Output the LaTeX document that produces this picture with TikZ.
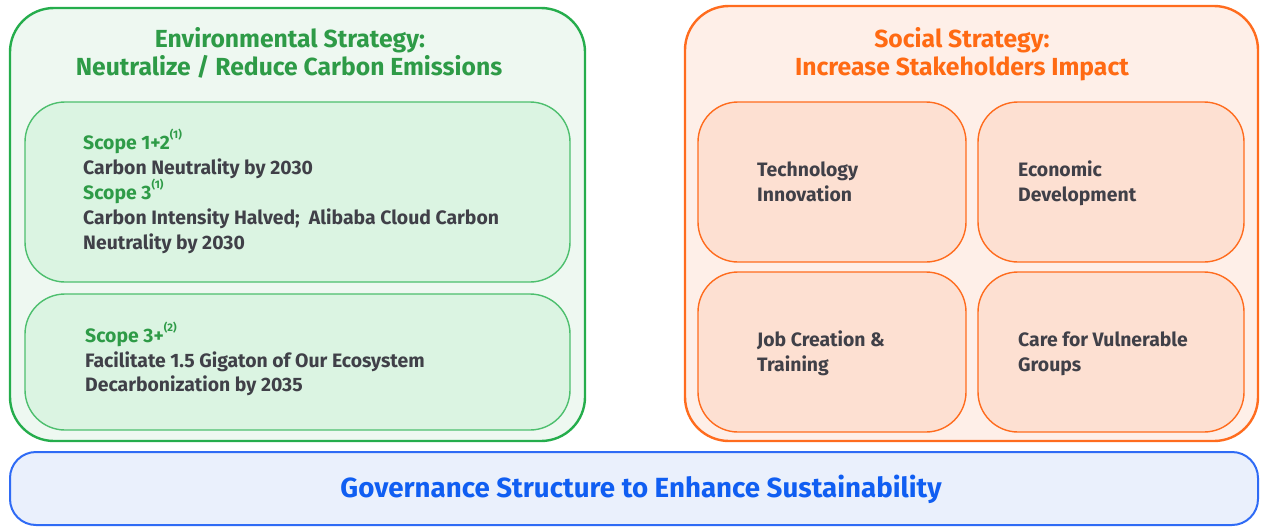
\documentclass[tikz,border=0pt]{standalone}
\usepackage{fontspec}
\setmainfont{Fira Sans}
\begin{document}
\begin{tikzpicture}[x=1pt,y=-1pt,
  panel/.style={inner sep=0pt,outer sep=0pt},
  envouter/.style={panel,draw=envline,line width=2.4pt,fill=envfillA,rounded corners=44pt},
  envinner/.style={panel,draw=envlineB,line width=1.4pt,fill=envfillB,rounded corners=40pt},
  socouter/.style={panel,draw=socline,line width=2.4pt,fill=socfillA,rounded corners=44pt},
  socinner/.style={panel,draw=socline,line width=1.4pt,fill=socfillB,rounded corners=40pt},
  govbox/.style={panel,draw=govline,line width=2pt,fill=govfill,rounded corners=26pt},
  headline/.style={font=\fontsize{24.7}{28}\selectfont\bfseries,anchor=base,inner sep=0pt},
  bodyline/.style={font=\fontsize{19.4}{25}\selectfont\bfseries,anchor=base west,inner sep=0pt,text=bodytext},
  scopeline/.style={bodyline,text=envtext},
]
\definecolor{envline}{HTML}{25AD4C}
\definecolor{envlineB}{HTML}{4DBF6E}
\definecolor{envfillA}{HTML}{EEF8F1}
\definecolor{envfillB}{HTML}{DBF4E2}
\definecolor{envtext}{HTML}{2E9B47}
\definecolor{socline}{HTML}{FF6C1E}
\definecolor{socfillA}{HTML}{FEEFE8}
\definecolor{socfillB}{HTML}{FDE0D2}
\definecolor{soctext}{HTML}{FF6A13}
\definecolor{govline}{HTML}{2F6BF5}
\definecolor{govfill}{HTML}{EAF0FC}
\definecolor{govtext}{HTML}{105EF2}
\definecolor{bodytext}{HTML}{404048}
\newcommand\notemark[1]{\raisebox{0.55em}{\fontsize{11}{11}\selectfont(#1)}}

\useasboundingbox (0,0) rectangle (1266,527);

% environmental column
\node[envouter,minimum width=575,minimum height=433] (envbox) at (297.5,224.5) {};
\node[envinner,minimum width=545,minimum height=180] (envA) at (297.5,192) {};
\node[envinner,minimum width=545,minimum height=136] (envB) at (297.5,362) {};
\node[headline,text=envtext] (envt1) at (290,48) {Environmental Strategy:};
\node[headline,text=envtext] (envt2) at (289,75) {Neutralize / Reduce Carbon Emissions};
\node[scopeline] (s12) at (83,149) {Scope 1+2\notemark{1}};
\node[bodyline]  (s12a) at (83,174) {Carbon Neutrality by 2030};
\node[scopeline] (s3) at (83,199) {Scope 3\notemark{1}};
\node[bodyline]  (s3a) at (83,224) {Carbon Intensity Halved;\ \ Alibaba Cloud Carbon};
\node[bodyline]  (s3b) at (83,249) {Neutrality by 2030};
\node[scopeline] (s3p) at (85,342) {Scope 3+\notemark{2}};
\node[bodyline]  (s3pa) at (85,367) {Facilitate 1.5 Gigaton of Our Ecosystem};
\node[bodyline]  (s3pb) at (85,391) {Decarbonization by 2035};

% social column
\node[socouter,minimum width=573,minimum height=435] (socbox) at (971.5,223.5) {};
\node[socinner,minimum width=268,minimum height=160] (socA) at (832,182) {};
\node[socinner,minimum width=266,minimum height=160] (socB) at (1111,182) {};
\node[socinner,minimum width=268,minimum height=160] (socC) at (832,352) {};
\node[socinner,minimum width=266,minimum height=160] (socD) at (1111,352) {};
\node[headline,text=soctext] (soct1) at (962,48) {Social Strategy:};
\node[headline,text=soctext] (soct2) at (962,75) {Increase Stakeholders Impact};
\node[bodyline] (ta) at (757,176) {Technology};
\node[bodyline] (tb) at (757,201) {Innovation};
\node[bodyline] (ea) at (1018,176) {Economic};
\node[bodyline] (eb) at (1018,201) {Development};
\node[bodyline] (ja) at (757,346) {Job Creation \&};
\node[bodyline] (jb) at (757,371) {Training};
\node[bodyline] (ca) at (1018,346) {Care for Vulnerable};
\node[bodyline] (cb) at (1018,371) {Groups};

% governance band
\node[govbox,minimum width=1248,minimum height=73] (govband) at (634,488.5) {};
\node[anchor=base,inner sep=0pt,font=\fontsize{27.7}{31}\selectfont\bfseries,text=govtext] (govt) at (641,497) {Governance Structure to Enhance Sustainability};
\end{tikzpicture}
\end{document}
